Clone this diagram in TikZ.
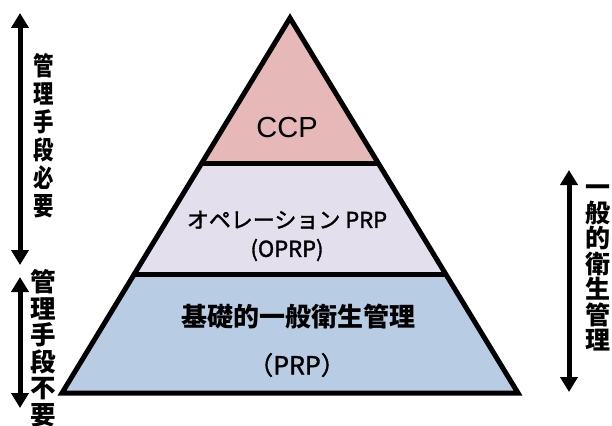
\documentclass[tikz,border=0pt]{standalone}
\usepackage{fontspec}
\setmainfont{Liberation Sans}
\newfontfamily\jp{Noto Sans CJK JP}
\newfontfamily\jpmed[FakeBold=1.5]{Noto Sans CJK JP}
\usetikzlibrary{arrows.meta,calc}
\definecolor{ccpfill}{HTML}{E6B8B7}
\definecolor{oprpfill}{HTML}{E4DFEC}
\definecolor{prpfill}{HTML}{B8CCE4}
\begin{document}
\begin{tikzpicture}[x=1pt,y=-1pt,
  edgeline/.style={line width=5pt, line join=miter},
  divline/.style={line width=5pt},
  dbl/.style={line width=5pt, {Triangle[width=17pt,length=15pt]}-{Triangle[width=17pt,length=15pt]}},
  vlabel/.style={font=\jp\bfseries\fontsize{25.5}{28}\selectfont, align=center, inner sep=0pt},
  vlabeltight/.style={font=\jp\bfseries\fontsize{25.5}{26.5}\selectfont, align=center, inner sep=0pt},
  vlabelright/.style={font=\jp\bfseries\fontsize{25}{25.5}\selectfont, align=center, inner sep=0pt},
]
\useasboundingbox (0,0) rectangle (612,425);
\fill[white] (0,0) rectangle (612,425);
% pyramid geometry
\coordinate (apex) at (290,18);
\coordinate (bl) at (62,393);
\coordinate (br) at (518,393);
\coordinate (d1l) at ($(apex)!0.389!(bl)$);
\coordinate (d1r) at ($(apex)!0.389!(br)$);
\coordinate (d2l) at ($(apex)!0.683!(bl)$);
\coordinate (d2r) at ($(apex)!0.683!(br)$);
% layers
\fill[ccpfill] (apex) -- (d1r) -- (d1l) -- cycle;
\fill[oprpfill] (d1l) -- (d1r) -- (d2r) -- (d2l) -- cycle;
\fill[prpfill] (d2l) -- (d2r) -- (br) -- (bl) -- cycle;
\draw[divline] (d1l) -- (d1r);
\draw[divline] (d2l) -- (d2r);
\draw[edgeline] (apex) -- (br) -- (bl) -- cycle;
% texts in pyramid
\node (ccp) at (287,128) {\fontsize{29}{30}\selectfont CCP};
\node[font=\jpmed\fontsize{22}{24}\selectfont] (oprp1) at (287,220) {オペレーション PRP};
\node[font=\jpmed\fontsize{22}{24}\selectfont] (oprp2) at (287,250) {(OPRP)};
\node[font=\jp\bfseries\fontsize{26}{28}\selectfont] (prp1) at (298,317) {基礎的一般衛生管理};
\node[font=\jpmed\fontsize{25}{26}\selectfont] (prp2) at (297,365) {（PRP）};
% left arrows and labels
\coordinate (a1t) at (20,13);
\coordinate (a1b) at (20,265);
\coordinate (a2t) at (20,277);
\coordinate (a2b) at (20,408);
\draw[dbl] (a1t) -- (a1b);
\draw[dbl] (a2t) -- (a2b);
\node[vlabel, xscale=0.8, transform shape] (need) at (44,136) {管\\理\\手\\段\\必\\要};
\node[vlabeltight] (noneed) at (43,348) {管\\理\\手\\段\\不\\要};
% right arrow and label
\coordinate (a3t) at (569,170);
\coordinate (a3b) at (569,392);
\draw[dbl] (a3t) -- (a3b);
\node[vlabelright] (gen) at (598,268) {一\\般\\的\\衛\\生\\管\\理};
\end{tikzpicture}
\end{document}
